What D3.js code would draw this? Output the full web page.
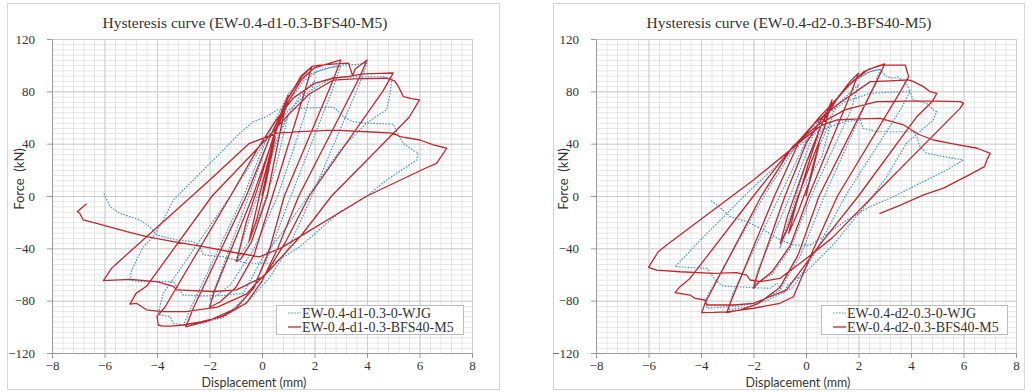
<!DOCTYPE html>
<html>
<head>
<meta charset="utf-8">
<script src="https://cdn.jsdelivr.net/npm/d3@7"></script>
<style>
  body { margin: 0; background: #fff; }
  svg { display: block; }
</style>
</head>
<body>
<div id="chart"></div>
<script>
// axis values
const xTicks = [-8, -6, -4, -2, 0, 2, 4, 6, 8]
const yTicks = [-120, -80, -40, 0, 40, 80, 120]
const xMinor = d3.range(-8, 8.001, 0.4)
const yMinor = d3.range(-120, 120.001, 4)

const titles = ["Hysteresis curve (EW-0.4-d1-0.3-BFS40-M5)", "Hysteresis curve (EW-0.4-d2-0.3-BFS40-M5)"]
const legendLeft = ["EW-0.4-d1-0.3-0-WJG", "EW-0.4-d1-0.3-BFS40-M5"]
const legendRight = ["EW-0.4-d2-0.3-0-WJG", "EW-0.4-d2-0.3-BFS40-M5"]

// [displacement mm, force kN]
const leftWJG = [
  [0,0],[0.5,40],[1.0,62],
  [0.5,20],[0,-10],[-0.5,-35],[-1.0,-50],
  [-0.6,-25],[0,10],[0.8,55],[1.4,75],[2.0,88],
  [1.6,60],[0.6,0],[-0.3,-40],[-1.2,-68],[-1.98,-79.5],
  [-1.6,-60],[-0.5,0],[0.3,45],[1.0,72],[1.6,88],[2.1,95],[2.6,98],[3.0,99.5],
  [2.7,82],[1.1,0],[0.2,-48],[-0.5,-75],[-1.3,-90],[-2.2,-97],[-3.0,-99],
  [-2.7,-85],[-0.7,0],[0.2,45],[1.0,78],[1.7,92],[2.3,97],[3.0,100],[3.6,100.5],[4.0,101.5],
  [3.7,85],[1.9,0],[1.0,-40],[0.3,-62],[-0.5,-80],[-1.5,-93],[-2.5,-98],[-3.0,-98.6],[-3.38,-97.3],[-3.5,-92.3],[-3.82,-91],[-3.95,-90],
  [-3.89,-84.6],[-3.76,-74.4],[-1.2,0],[0,38],[1.0,65],[1.8,80],[2.7,90.7],[3.6,91],[4.62,91.2],[4.95,90],
  [4.88,78.5],[4.75,66],[4.0,56],[2.97,35],[1.75,0],[0.94,-23.5],[0.0,-48],[-0.71,-74.4],[-1.5,-76],[-2.24,-76.4],[-3.0,-75.7],[-3.25,-69.3],[-3.38,-65.5],[-4.65,-65.5],[-5.03,-64.2],
  [-4.96,-56.6],[-4.78,-48.9],[-4.52,-38.7],[-4.14,-31.1],[-3.76,-18.3],[-3.38,-3.1],[-2.49,14.8],[-1.73,30],[-0.84,48],[-0.33,56.8],[0.17,60.6],[0.56,65.7],[1.45,67],[2.72,68],[2.85,65.7],[3.1,60.6],[3.48,56.8],[4.0,55.6],[5.0,55],[5.13,49.1],[5.38,40.3],[5.83,33.9],[5.95,33],
  [5.89,27.5],[4.75,12.2],[4.0,0],[3.0,-12],[2.46,-20.9],[1.45,-38.7],[0.43,-51.4],[-0.58,-51.4],[-1.47,-46.4],[-2.24,-45],[-2.36,-38.7],[-2.62,-34.9],[-3.25,-33.6],[-4.01,-29.8],[-4.27,-23.5],[-4.65,-18.3],[-5.41,-13.3],[-5.79,-8.2],[-6.05,3]
]

const leftM5 = [
  [0,0],[0.25,25],[0.5,45],
  [0.15,10],[-0.2,-18],[-0.5,-35],
  [-0.1,0],[0.4,40],[0.75,65],[1.0,77],
  [0.75,55],[0.2,0],[-0.4,-35],[-0.8,-48],[-0.97,-50],
  [-0.6,-20],[-0.1,10],[0.5,50],[1.0,75],[1.5,91],[1.9,99],
  [1.6,78],[0.4,0],[-0.3,-45],[-1.0,-70],[-1.6,-81],[-2.0,-85],
  [-1.8,-72],[-0.35,0],[0.5,48],[1.0,72],[1.5,89],[2.0,98],[2.5,101],[3.0,104],
  [2.7,88],[0.85,0],[0.3,-40],[-0.3,-70],[-1.0,-86],[-2.0,-95],[-2.9,-100],
  [-2.6,-85],[-0.6,0],[0.3,45],[1.0,75],[1.5,92],[1.9,99],[2.2,100],[2.8,101],[3.3,101.5],[3.45,92],[3.55,97],[4.0,104],
  [3.7,90],[1.4,0],[0.6,-40],[0.0,-65],[-0.6,-82],[-1.5,-92],[-2.3,-96],[-3.0,-98.6],[-3.5,-99.5],[-3.8,-99.4],[-3.95,-98.6],
  [-4.0,-92],[-3.7,-85],[-1.2,0],[-0.2,35],[0.5,57],[1.2,75],[2.0,86],[2.7,90],[3.3,91.5],[3.86,93.3],[4.5,93.8],[5.0,94],
  [4.6,80],[1.8,0],[0.9,-35],[0.2,-58],[-0.6,-75],[-1.7,-85],[-2.9,-88.4],[-3.8,-88.4],[-4.4,-87],[-4.78,-82],[-5.03,-82.6],
  [-4.8,-74.4],[-4.4,-69],[-1.9,0],[0,40],[1.0,62],[1.8,78],[2.7,88.5],[3.5,89.5],[4.75,90],[5.05,88],[5.2,83.6],[5.38,76],[5.7,74.5],[6.0,73.5],
  [5.6,60],[2.65,0],[1.5,-30],[0.5,-52],[0.05,-61.7],[-0.97,-71.8],[-1.86,-73],[-3.25,-71.8],[-3.38,-69],[-4.0,-65.5],[-5.03,-63.7],[-6.04,-64.7],
  [-5.73,-55.3],[-5.5,-51],[-2.0,12],[-0.5,40],[0.56,48],[1.45,49.2],[2.72,50.4],[3.99,49.1],[5.0,48],[5.26,45.3],[6.02,42.8],[6.53,39],[7.04,36.5],
  [6.65,25],[6.2,21],[4.0,0],[0.7,-40],[-0.1,-46.5],[-1.22,-42.6],[-2.24,-38.7],[-3.38,-34.9],[-4.39,-31.1],[-5.15,-27.3],[-6.3,-20.9],[-6.81,-18.3],[-6.95,-13],[-7.04,-12],[-6.68,-6]
]

const rightWJG = [
  [0,0],[0.5,38],[1.0,60],
  [0.6,30],[-0.3,0],[-0.7,-25],[-1.0,-40],
  [-0.6,-15],[0,25],[0.6,50],[1.3,72],[2.0,85],
  [1.7,65],[0.2,0],[-0.6,-40],[-1.3,-60],[-2.0,-68],
  [-1.8,-55],[-0.6,0],[0.3,48],[1.0,70],[1.8,88],[2.4,95],[2.85,97],
  [2.6,85],[0.7,0],[-0.2,-45],[-1.0,-72],[-2.0,-84],[-2.96,-87.1],
  [-2.8,-75],[-1.0,0],[0,42],[0.8,65],[1.6,85],[2.44,95],[2.82,96.8],[3.07,91.2],[3.33,90],[3.5,91],[3.83,86.1],[3.96,79.7],
  [3.6,66],[1.5,0],[0.3,-45],[-0.5,-70],[-1.5,-80],[-2.5,-84],[-3.2,-85],[-3.78,-85.8],
  [-3.8,-78],[-1.6,0],[-0.4,38],[0.6,60],[1.5,72],[2.44,78.5],[3.58,79.7],[3.96,79.7],[4.09,73.4],[4.6,70.8],[4.86,65.7],[4.98,64.4],
  [4.85,58],[3.83,40.3],[3.07,14.8],[2.44,-3.1],[1.0,-38],[0,-58],[-0.7,-68],[-0.85,-74.4],[-1.1,-66.7],[-1.37,-70.6],[-2.26,-69.8],[-3.15,-68.8],[-3.4,-65.5],[-3.59,-60.4],[-3.78,-55.3],[-4.99,-54],
  [-4.5,-44],[-4.15,-36.2],[-2.12,4.6],[-0.5,35],[0.5,50],[1.5,57],[2.06,58],[2.18,51.7],[2.69,49.1],[4.09,49.1],[4.22,45.3],[4.34,37.7],[4.6,32.6],[5.3,30],[5.99,27.5],
  [5.36,19.9],[4.34,9.7],[3.33,-0.5],[2.44,-8.2],[1.55,-18.3],[0.66,-31.1],[0.16,-37.5],[-0.47,-37.5],[-0.98,-33.6],[-1.61,-26],[-2.25,-19.6],[-2.88,-15.8],[-3.39,-6.9],[-3.65,-3.1]
]

const rightM5 = [
  [0,0],[0.25,22],[0.5,40],
  [0.2,15],[-0.3,-12],[-0.66,-28.5],
  [-0.4,-8],[0.1,25],[0.5,50],[0.99,73.4],
  [0.7,52],[-0.3,0],[-0.7,-25],[-0.98,-36.2],
  [-0.7,-15],[0,25],[0.6,55],[1.2,75],[1.7,88],[2.0,93.8],
  [1.7,78],[0.1,0],[-0.6,-38],[-1.3,-58],[-1.8,-66],[-2.0,-70.6],
  [-1.85,-60],[-0.8,0],[0,40],[0.7,62],[1.5,82],[2.2,95],[2.7,99],[3.0,101],
  [2.7,88],[0.5,0],[-0.3,-45],[-1.0,-70],[-1.8,-82],[-2.5,-87],[-3.02,-89.2],
  [-2.85,-80],[-1.2,0],[-0.3,40],[0.5,60],[1.2,75],[1.8,88],[2.4,97],[2.9,100],[3.78,100.1],[3.91,91.2],
  [3.6,80],[1.2,0],[0.3,-40],[-0.48,-77],[-0.99,-82],[-2.0,-85.8],[-3.0,-88.5],[-3.5,-89],[-3.97,-89.2],
  [-3.85,-82],[-1.7,0],[-0.6,35],[0.3,55],[1.2,70],[2.45,87.4],[3.2,88],[3.91,88.7],[4.1,87.4],[4.47,83.6],[4.73,79.7],[4.99,78.5],
  [4.8,72],[4.22,60.6],[2.0,0],[0.5,-38],[-0.74,-71.8],[-1.37,-77],[-2.0,-82],[-2.77,-83.3],[-3.78,-83.3],[-3.85,-79.5],[-4.23,-78.2],[-4.42,-75.7],[-4.99,-73.9],
  [-4.8,-69.3],[-4.42,-63],[-2.0,0],[-0.5,38],[0.5,55],[1.5,66],[2.7,72.1],[4.0,72.5],[5.0,72.5],[5.88,72.1],[6.0,71],
  [5.87,67],[2.56,0],[1.0,-32],[0,-48],[-0.48,-55.3],[-0.99,-62.9],[-1.75,-65.5],[-2.13,-64.2],[-2.26,-60.4],[-2.64,-58.6],[-3.53,-59.1],[-4.8,-57.9],[-5.69,-56.6],[-6.0,-54.5],
  [-5.63,-42.6],[-5.31,-37.5],[-2.0,12.2],[0,45],[0.6,54],[1.18,58.1],[2.0,59],[2.83,59.4],[3.72,54.3],[4.3,47],[4.86,42.8],[5.5,40.3],[6.52,36.5],[7.02,32.6],
  [6.9,28],[6.8,22.4],[6.2,16],[5.24,6],[4.48,0.8],[3.6,-7],[2.8,-13.5]
]

const BLUE = "#4a96c8"
const RED = "#c1272d"
const SERIF = "'Liberation Serif', 'Times New Roman', serif"

// layout of the two panels
const panels = [
  { frame: [7, 3, 492, 386], left: 52, right: 472, top: 39, bottom: 353, legend: [276, 305, 187, 29],
    title: titles[0], names: legendLeft, wjg: leftWJG, m5: leftM5 },
  { frame: [553, 3, 471, 386], left: 596, right: 1016, top: 39, bottom: 353, legend: [821, 305, 186, 29],
    title: titles[1], names: legendRight, wjg: rightWJG, m5: rightM5 }
]

const svg = d3.select("#chart").append("svg")
  .attr("width", 1034)
  .attr("height", 392)

panels.forEach(drawPanel)

function drawPanel(p) {
  let g = svg.append("g")
  let w = p.right - p.left
  let h = p.bottom - p.top

  g.append("rect")
    .attr("x", p.frame[0] + 0.5).attr("y", p.frame[1] + 0.5)
    .attr("width", p.frame[2]).attr("height", p.frame[3])
    .attr("fill", "#fff").attr("stroke", "#d4d4d4")

  let x = d3.scaleLinear().domain([-8, 8]).range([p.left, p.right])
  let y = d3.scaleLinear().domain([-120, 120]).range([p.bottom, p.top])

  // minor grid
  g.append("g")
    .attr("class", "grid minor")
    .attr("transform", "translate(0," + p.bottom + ")")
    .call(d3.axisBottom(x).tickValues(xMinor).tickSize(-h).tickFormat(""))
  g.append("g")
    .attr("class", "grid minor")
    .attr("transform", "translate(" + p.left + ",0)")
    .call(d3.axisLeft(y).tickValues(yMinor).tickSize(-w).tickFormat(""))
  // major grid
  g.append("g")
    .attr("class", "grid major")
    .attr("transform", "translate(0," + p.bottom + ")")
    .call(d3.axisBottom(x).tickValues(xTicks).tickSize(-h).tickFormat(""))
  g.append("g")
    .attr("class", "grid major")
    .attr("transform", "translate(" + p.left + ",0)")
    .call(d3.axisLeft(y).tickValues(yTicks).tickSize(-w).tickFormat(""))

  g.selectAll(".grid .domain").remove()
  g.selectAll(".grid text").remove()
  g.selectAll(".grid.minor line").attr("stroke", "#e6e6e6").attr("stroke-width", 1)
  g.selectAll(".grid.major line").attr("stroke", "#cdcdcd").attr("stroke-width", 1)

  // axes
  g.append("g")
    .attr("class", "axis")
    .attr("transform", "translate(0," + p.bottom + ")")
    .call(d3.axisBottom(x).tickValues(xTicks).tickSize(5).tickPadding(3).tickSizeOuter(0))
    .attr("font-family", SERIF).attr("font-size", 13)
  g.append("g")
    .attr("class", "axis")
    .attr("transform", "translate(" + p.left + ",0)")
    .call(d3.axisLeft(y).tickValues(yTicks).tickSize(5).tickPadding(12).tickSizeOuter(0))
    .attr("font-family", SERIF).attr("font-size", 13)
  g.selectAll(".axis path, .axis line").attr("stroke", "#9a9a9a")
  g.selectAll(".axis text").attr("fill", "#333")

  // series
  let line = d3.line()
    .x(d => x(d[0]))
    .y(d => y(d[1]))

  g.append("path")
    .datum(p.wjg)
    .attr("d", line)
    .attr("fill", "none")
    .attr("stroke", BLUE)
    .attr("stroke-width", 1.2)
    .attr("stroke-dasharray", "1.6,1.4")
    .attr("stroke-linejoin", "round")

  g.append("path")
    .datum(p.m5)
    .attr("d", line)
    .attr("fill", "none")
    .attr("stroke", RED)
    .attr("stroke-width", 1.3)
    .attr("stroke-linejoin", "round")

  // title + axis titles
  g.append("text")
    .attr("x", (p.left + p.right) / 2 - 17).attr("y", 28)
    .attr("text-anchor", "middle")
    .attr("font-family", SERIF)
    .attr("font-size", "15.5px")
    .attr("fill", "#333")
    .text(p.title)

  g.append("text")
    .attr("x", (p.left + p.right) / 2 - 8).attr("y", 387)
    .attr("text-anchor", "middle")
    .attr("font-family", "Lato, sans-serif")
    .attr("font-size", "12.5px")
    .attr("fill", "#333")
    .text("Displacement (mm)")

  g.append("text")
    .attr("transform", "translate(" + (p.left - 28) + ",179) rotate(-90)")
    .attr("text-anchor", "middle")
    .attr("font-family", "Lato, sans-serif")
    .attr("font-size", "13px")
    .attr("fill", "#333")
    .attr("xml:space", "preserve")
    .text("Force  (kN)")

  // legend
  let lg = g.append("g").attr("transform", "translate(" + p.legend[0] + "," + p.legend[1] + ")")
  lg.append("rect")
    .attr("x", 0.5).attr("y", 0.5)
    .attr("width", p.legend[2]).attr("height", p.legend[3])
    .attr("fill", "#fff").attr("stroke", "#bdbdbd")

  let items = [
    { name: p.names[0], color: BLUE, dash: "1.6,1.4", width: 1.2 },
    { name: p.names[1], color: RED, dash: null, width: 1.3 }
  ]
  items.forEach((it, i) => {
    let cy = 8 + i * 14
    lg.append("line")
      .attr("x1", 12).attr("x2", 25).attr("y1", cy).attr("y2", cy)
      .attr("stroke", it.color).attr("stroke-width", it.width)
      .attr("stroke-dasharray", it.dash)
    lg.append("text")
      .attr("x", 26).attr("y", cy + 5)
      .attr("font-family", SERIF)
      .attr("font-size", "14px")
      .attr("fill", "#333")
      .text(it.name)
  })
}
</script>
</body>
</html>
